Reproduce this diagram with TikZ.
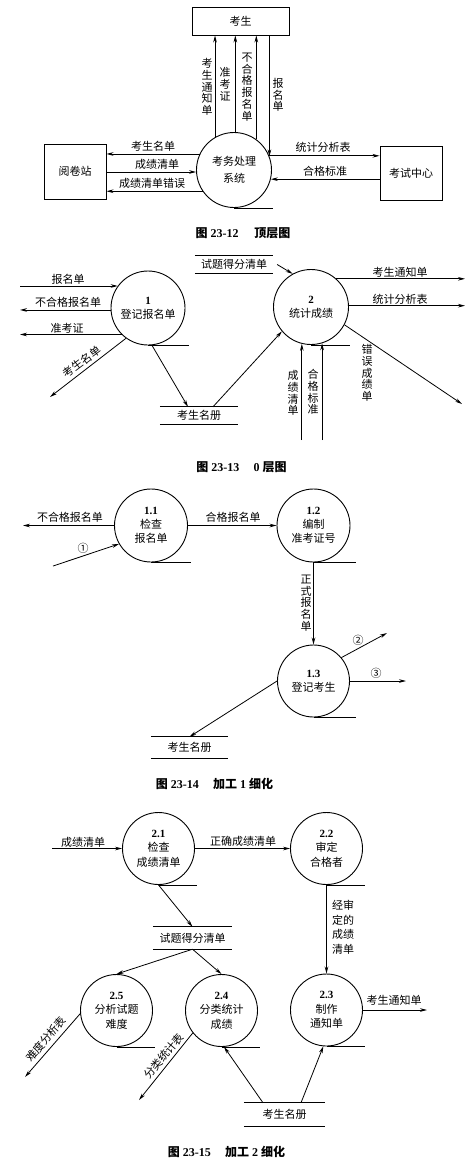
\documentclass[tikz,border=0pt]{standalone}
\usepackage{fontspec}
\setmainfont{Liberation Serif}
\newfontfamily\cjk{Noto Sans CJK SC}
\usetikzlibrary{arrows.meta}
\begin{document}
\begin{tikzpicture}[x=1pt,y=-1pt,
  lw/.style={line width=0.8pt},
  arr/.style={line width=0.8pt,-{Stealth[length=7pt,width=3.6pt]}},
  proc/.style={circle,draw,line width=0.9pt,minimum size=73pt,inner sep=0pt,align=center,font=\cjk\fontsize{11}{14}\selectfont},
  ent/.style={draw,line width=0.9pt,inner sep=0pt,font=\cjk\fontsize{11}{13}\selectfont},
  lab/.style={inner sep=0pt,font=\cjk\fontsize{11}{13}\selectfont},
  vlab/.style={inner sep=0pt,align=center,font=\cjk\fontsize{11}{11.7}\selectfont},
  captxt/.style={inner sep=0pt,font=\fontsize{12}{14}\selectfont\bfseries},
  storebox/.style={inner sep=0pt,font=\cjk\fontsize{11}{13}\selectfont}
]
\fill[white] (0,0) rectangle (470,1163);
\useasboundingbox (0,0) rectangle (470,1163);

% ================= Figure 23-12 =================
\node[ent,minimum width=97pt,minimum height=28pt] (stu) at (240.5,21) {考生};
\node[ent,minimum width=62pt,minimum height=55pt] (yjz) at (75,171.5) {阅卷站};
\node[ent,minimum width=62pt,minimum height=54pt] (ksz) at (411,173) {考试中心};
\node[proc,minimum size=75pt,font=\cjk\fontsize{11}{17}\selectfont] (sys) at (234,170) {考务处理\\系统};
\draw[lw] (sys.south) -- ++(39,0);
\draw[arr] (sys.120) -- (sys.120 |- stu.south);
\draw[arr] (sys.88) -- (sys.88 |- stu.south);
\draw[arr] (sys.54) -- (sys.54 |- stu.south);
\draw[arr] (sys.21 |- stu.south) -- (sys.21);
\node[vlab] at (207,87) {考\\生\\通\\知\\单};
\node[vlab] at (225,84) {准\\考\\证};
\node[vlab] at (247,87) {不\\合\\格\\报\\名\\单};
\node[vlab] at (278,95) {报\\名\\单};
\draw[arr] (sys.155) -- (sys.155 -| yjz.east);
\draw[arr] (sys.183 -| yjz.east) -- (sys.183);
\draw[arr] (sys.214) -- (sys.214 -| yjz.east);
\draw[arr] (sys.22) -- (sys.22 -| ksz.west);
\draw[arr] (sys.-14 -| ksz.west) -- (sys.-14);
\node[lab] at (153,146) {考生名单};
\node[lab] at (157,164) {成绩清单};
\node[lab] at (152,183) {成绩清单错误};
\node[lab] at (323,147) {统计分析表};
\node[lab] at (325,171) {合格标准};
\node[captxt] (cap1) at (243,233) {{\cjk 图} 23-12\hspace{1.3em}{\cjk 顶层图}};

% ================= Figure 23-13 =================
\node[proc,minimum size=74pt] (p1) at (148,308) {{\rmfamily\bfseries 1}\\登记报名单};
\node[proc,minimum size=75pt] (p2) at (311,307) {{\rmfamily\bfseries 2}\\统计成绩};
\draw[lw] (p1.south) -- ++(41,0);
\draw[lw] (p2.south) -- ++(39,0);
\coordinate (L2) at (20,0);
\coordinate (R2) at (465,0);
\coordinate (B2) at (0,440);
\draw[arr] (p1.144 -| L2) -- (p1.144);
\draw[arr] (p1.183) -- (p1.183 -| L2);
\draw[arr] (p1.225) -- (p1.225 -| L2);
\node[lab] at (68,279) {报名单};
\node[lab] at (68,302) {不合格报名单};
\node[lab] at (67,328) {准考证};
\coordinate (kn2) at (50,397);
\draw[arr] (p1.234) -- (kn2);
\node[lab,rotate=37] at (82,362) {考生名单};
\node[storebox,minimum width=78pt,minimum height=17pt] (ks2) at (199,415.5) {考生名册};
\draw[lw] (ks2.north west) -- (ks2.north east) (ks2.south west) -- (ks2.south east);
\draw[arr] (p1.276) -- ([xshift=-11pt]ks2.north);
\draw[arr] ([xshift=14pt]ks2.north) -- (p2.220);
\node[storebox,minimum width=78pt,minimum height=17pt] (st2) at (234,264.5) {试题得分清单};
\draw[lw] (st2.north west) -- (st2.north east) (st2.south west) -- (st2.south east);
\draw[arr] ([xshift=4pt]st2.east) -- (p2.119);
\draw[arr] (p2.48) -- (p2.48 -| R2);
\draw[arr] (p2.2) -- (p2.2 -| R2);
\node[lab] at (400,272) {考生通知单};
\node[lab] at (400,299) {统计分析表};
\coordinate (ecs) at (462,404);
\draw[arr] (p2.-28) -- (ecs);
\node[vlab] at (367,373) {错\\误\\成\\绩\\单};
\draw[arr] (p2.256 |- B2) -- (p2.256);
\draw[arr] (p2.287 |- B2) -- (p2.287);
\node[vlab] at (293,393) {成\\绩\\清\\单};
\node[vlab] at (313,392) {合\\格\\标\\准};
\node[captxt] (cap2) at (241.5,467) {{\cjk 图} 23-13\hspace{1.2em}0 {\cjk 层图}};

% ================= Figure 23-14 =================
\node[proc] (p11) at (151,525.5) {{\rmfamily\bfseries 1.1}\\检查\\报名单};
\node[proc] (p12) at (313.5,525.5) {{\rmfamily\bfseries 1.2}\\编制\\准考证号};
\node[proc,minimum size=72pt] (p13) at (313.5,681) {{\rmfamily\bfseries 1.3}\\登记考生};
\draw[lw] (p11.south) -- ++(40,0);
\draw[lw] (p12.south) -- ++(42,0);
\draw[lw] (p13.south) -- ++(42,0);
\coordinate (L3) at (23,0);
\draw[arr] (p11.west) -- (p11.west -| L3);
\node[lab] at (70,517) {不合格报名单};
\coordinate (in3) at (53,566);
\draw[arr] (in3) -- (p11.210);
\node[lab] at (83,548) {①};
\draw[arr] (p11.east) -- (p12.west);
\node[lab] at (233,517) {合格报名单};
\draw[arr] (p12.south) -- (p13.north);
\node[vlab] at (306,603) {正\\式\\报\\名\\单};
\coordinate (o2) at (387,633);
\draw[arr] (p13.40) -- (o2);
\node[lab] at (358,640) {②};
\coordinate (R3) at (406,0);
\draw[arr] (p13.east) -- (p13.east -| R3);
\node[lab] at (376,673) {③};
\node[storebox,minimum width=77pt,minimum height=21pt] (ks3) at (189.5,747.5) {考生名册};
\draw[lw] (ks3.north west) -- (ks3.north east) (ks3.south west) -- (ks3.south east);
\draw[arr] (p13.west) -- (ks3.north);
\node[captxt] (cap3) at (214.5,784) {{\cjk 图} 23-14\hspace{1.2em}{\cjk 加工} 1 {\cjk 细化}};

% ================= Figure 23-15 =================
\tikzset{proc4/.style={proc,minimum size=72pt,font=\cjk\fontsize{11}{14.5}\selectfont}}
\node[proc4] (p21) at (158.5,848.5) {{\rmfamily\bfseries 2.1}\\检查\\成绩清单};
\node[proc4] (p22) at (326.5,848.5) {{\rmfamily\bfseries 2.2}\\审定\\合格者};
\node[proc4] (p25) at (116.5,1010.5) {{\rmfamily\bfseries 2.5}\\分析试题\\难度};
\node[proc4] (p24) at (221.5,1010.5) {{\rmfamily\bfseries 2.4}\\分类统计\\成绩};
\node[proc4] (p23) at (326.5,1010) {{\rmfamily\bfseries 2.3}\\制作\\通知单};
\draw[lw] (p21.south) -- ++(38,0);
\draw[lw] (p22.south) -- ++(38.5,0);
\draw[lw] (p25.south) -- ++(38.5,0);
\draw[lw] (p24.south) -- ++(38.5,0);
\draw[lw] (p23.south) -- ++(38.5,0);
\coordinate (L4) at (52,0);
\draw[arr] (p21.west -| L4) -- (p21.west);
\node[lab] at (83,842) {成绩清单};
\draw[arr] (p21.east) -- (p22.west);
\node[lab] at (243,841) {正确成绩清单};
\node[storebox,minimum width=79pt,minimum height=22pt] (st4) at (192.5,938) {试题得分清单};
\draw[lw] (st4.north west) -- (st4.north east) (st4.south west) -- (st4.south east);
\draw[arr] (p21.south) -- (st4.north);
\draw[arr] (st4.south) -- (p25.north);
\draw[arr] (st4.south) -- (p24.north);
\draw[arr] (p22.south) -- (p23.north);
\node[lab,anchor=west,align=left,font=\cjk\fontsize{11}{14.5}\selectfont] at (332,927.5) {经审\\定的\\成绩\\清单};
\coordinate (R4) at (427,0);
\draw[arr] (p23.east) -- (p23.east -| R4);
\node[lab] at (394,1000) {考生通知单};
\coordinate (o25) at (25,1077);
\draw[arr] (p25.185) -- (o25);
\node[lab,rotate=49] at (46,1039) {难度分析表};
\coordinate (o24) at (139,1100);
\draw[arr] (p24.218) -- (o24);
\node[lab,rotate=50] at (164,1056) {分类统计表};
\node[storebox,minimum width=81pt,minimum height=23pt] (ks4) at (284.5,1114.5) {考生名册};
\draw[lw] (ks4.north west) -- (ks4.north east) (ks4.south west) -- (ks4.south east);
\draw[arr] ([xshift=-21.5pt]ks4.north) -- (p24.274);
\draw[arr] ([xshift=16.5pt]ks4.north) -- (p23.265);
\node[captxt] (cap4) at (226.5,1152) {{\cjk 图} 23-15\hspace{1.2em}{\cjk 加工} 2 {\cjk 细化}};
\end{tikzpicture}
\end{document}
